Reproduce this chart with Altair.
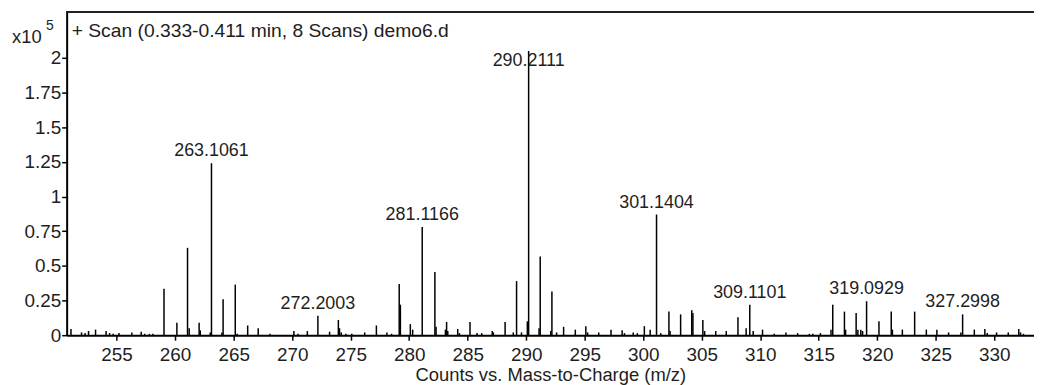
import altair as alt
import pandas as pd

# Peak list (m/z, intensity in units of 1e5 counts)
peak_mz = [
    251.1, 252.0, 252.3, 252.6, 253.2, 254.1, 254.4, 254.7, 255.2, 256.3, 257.1, 257.4, 257.8, 258.1,
    259.05, 260.15, 261.06, 261.2, 262.05, 262.15, 263.0, 263.1061, 264.0, 264.1, 265.14, 265.3,
    266.2, 267.1, 268.1, 270.15, 270.5, 271.3, 272.2003, 273.2, 273.95, 274.05, 274.2, 274.6, 275.1,
    276.2, 277.2, 278.1, 278.5, 279.15, 279.25, 280.1, 280.3, 281.1166, 282.2, 282.3, 283.1, 283.2,
    283.3, 284.15, 284.3, 285.2, 285.8, 286.2, 287.1, 287.2, 288.2, 288.9, 289.18, 289.6, 290.1,
    290.2111, 291.1, 291.2, 292.1, 292.2, 292.6, 293.2, 294.2, 295.1, 295.25, 296.2, 297.25, 298.2,
    298.4, 299.15, 299.5, 300.1, 300.6, 301.1404, 301.5, 302.2, 302.3, 303.2, 304.15, 304.25, 305.1,
    305.25, 306.2, 307.1, 308.1, 308.8, 309.1101, 309.4, 310.2, 311.2, 312.2, 313.2, 314.2, 314.5,
    315.15, 316.05, 316.2, 317.2, 317.3, 318.2, 318.35, 318.6, 318.75, 319.0929, 320.15, 321.2, 321.3,
    322.15, 323.2, 324.2, 325.1, 326.1, 327.15, 327.2998, 328.3, 329.2, 329.4, 330.2, 331.2, 332.1,
    332.25, 332.5,
]
peak_int = [
    0.045, 0.02, 0.015, 0.03, 0.04, 0.03, 0.015, 0.01, 0.015, 0.02, 0.025, 0.01, 0.01, 0.01,
    0.335, 0.09, 0.63, 0.05, 0.09, 0.035, 0.02, 1.24, 0.02, 0.26, 0.365, 0.01,
    0.07, 0.05, 0.01, 0.03, 0.01, 0.03, 0.14, 0.025, 0.11, 0.05, 0.02, 0.01, 0.01,
    0.02, 0.07, 0.02, 0.01, 0.37, 0.22, 0.08, 0.04, 0.78, 0.455, 0.06, 0.04, 0.095,
    0.03, 0.045, 0.015, 0.095, 0.015, 0.015, 0.03, 0.02, 0.095, 0.02, 0.39, 0.02, 0.1,
    2.05, 0.05, 0.567, 0.03, 0.315, 0.02, 0.06, 0.04, 0.065, 0.02, 0.02, 0.04, 0.035,
    0.015, 0.02, 0.015, 0.065, 0.04, 0.87, 0.015, 0.17, 0.03, 0.15, 0.18, 0.16, 0.11,
    0.03, 0.03, 0.03, 0.13, 0.05, 0.22, 0.03, 0.04, 0.01, 0.02, 0.015, 0.01, 0.01,
    0.015, 0.04, 0.22, 0.17, 0.04, 0.16, 0.04, 0.04, 0.03, 0.245, 0.1, 0.17, 0.04,
    0.04, 0.17, 0.04, 0.04, 0.02, 0.02, 0.15, 0.04, 0.045, 0.015, 0.02, 0.02, 0.045,
    0.02, 0.01,
]

label_mz = [263.1061, 272.2003, 281.1166, 290.2111, 301.1404, 309.1101, 319.0929, 327.2998]

x_ticks = [255, 260, 265, 270, 275, 280, 285, 290, 295, 300, 305, 310, 315, 320, 325, 330]
y_ticks = [0, 0.25, 0.5, 0.75, 1, 1.25, 1.5, 1.75, 2]

title_text = "+ Scan (0.333-0.411 min, 8 Scans) demo6.d"
x_title = "Counts vs. Mass-to-Charge (m/z)"

FONT = "Liberation Sans"
TXT = "#1e1e1e"
W, H = 973, 325

peaks = pd.DataFrame({"mz": peak_mz, "h": peak_int})
lookup = dict(zip(peak_mz, peak_int))
labels = pd.DataFrame({
    "mz": label_mz,
    "h": [lookup[m] for m in label_mz],
    "txt": [f"{m:.4f}" for m in label_mz],
})

xscale = alt.Scale(domain=[250.73, 333.4], nice=False, zero=False)
yscale = alt.Scale(domain=[0, 2.33], nice=False)

xaxis = alt.Axis(values=x_ticks, format="d", title=x_title, grid=False,
                 domainColor="black", domainWidth=2, tickColor="black", tickWidth=1.5,
                 tickSize=5, labelFont=FONT, labelFontSize=19, labelColor=TXT,
                 labelPadding=5, titleFont=FONT, titleFontSize=18.5, titleFontWeight="normal",
                 titleColor=TXT, titlePadding=2, labelFlush=False)
yaxis = alt.Axis(values=y_ticks, labelExpr="datum.value + ''", title=None, grid=False,
                 domainColor="black", domainWidth=2, tickColor="black", tickWidth=1.5,
                 tickSize=5, labelFont=FONT, labelFontSize=19, labelColor=TXT,
                 labelPadding=1, labelFlush=False)

sticks = alt.Chart(peaks).mark_rule(color="black", strokeWidth=1.5).encode(
    x=alt.X("mz:Q", scale=xscale, axis=xaxis),
    y=alt.Y("h:Q", scale=yscale, axis=yaxis),
    y2=alt.datum(0),
)

peak_labels = alt.Chart(labels).transform_calculate(
    ly="min(datum.h, 1.89)"
).mark_text(font=FONT, fontSize=18, color=TXT, baseline="alphabetic", dy=-7).encode(
    x=alt.X("mz:Q", scale=xscale),
    y=alt.Y("ly:Q", scale=yscale),
    text="txt:N",
)

top_line = alt.Chart(peaks).mark_rule(color="#222", strokeWidth=2).encode(
    x=alt.value(0), x2=alt.value(W), y=alt.value(0)
)

title_mark = alt.Chart(pd.DataFrame({"t": [title_text]})).mark_text(
    font=FONT, fontSize=19.4, color=TXT, align="left", baseline="middle"
).encode(x=alt.value(5), y=alt.value(19), text="t:N")

x10_mark = alt.Chart(pd.DataFrame({"t": ["x10"]})).mark_text(
    font=FONT, fontSize=18.5, color=TXT, align="center", baseline="middle"
).encode(x=alt.value(-40), y=alt.value(25), text="t:N")

exp_mark = alt.Chart(pd.DataFrame({"t": ["5"]})).mark_text(
    font=FONT, fontSize=14, color=TXT, align="center", baseline="middle"
).encode(x=alt.value(-17), y=alt.value(14), text="t:N")

chart = alt.layer(sticks, peak_labels, top_line, title_mark, x10_mark, exp_mark).properties(
    width=W, height=H,
    autosize=alt.AutoSizeParams(type="none"),
    padding={"left": 59, "top": 3, "right": 0, "bottom": 49},
).configure_view(stroke=None).configure(background="white")

chart.save("out.html", embed_options={"renderer": "svg", "actions": False})
